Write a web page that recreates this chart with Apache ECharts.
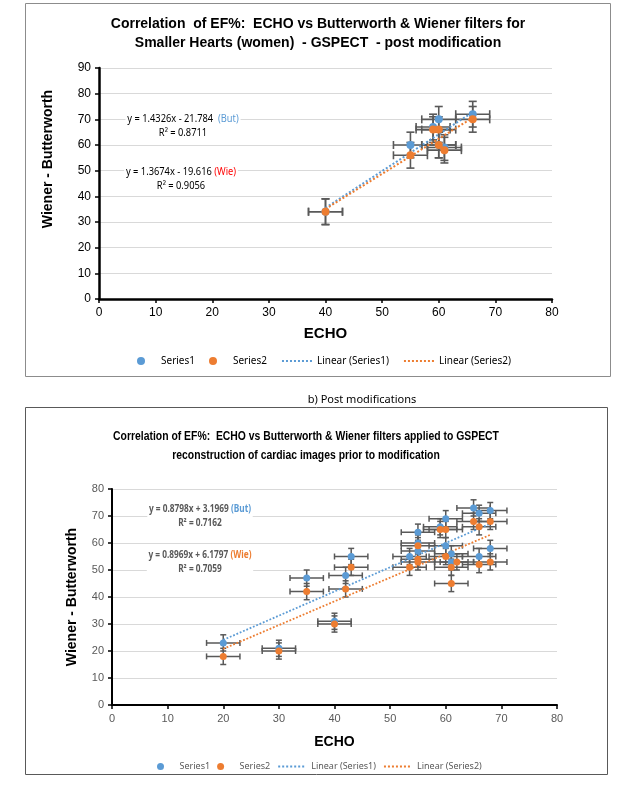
<!DOCTYPE html>
<html>
<head>
  <meta charset="UTF-8">
  <title>EF% correlation</title>
  <style>
    body { margin: 0; background: #fff; }
    #main { width: 635px; height: 788px; }
  </style>
</head>
<body>
  <div id="main"></div>
  <script src="https://cdn.jsdelivr.net/npm/echarts@6/dist/echarts.min.js"></script>
  <script>
    // top chart: post modification (smaller hearts)
    const echoA1 = [40, 55, 59, 60, 60, 61, 66];
    const butA = [34, 60, 67, 70, 60, 59, 72];
    const echoA2 = [40, 55, 59, 60, 60, 61, 66];
    const wieA = [34, 56, 66, 66, 60, 58, 70];
    const errA = [3, 5];             // x error, y error
    const trendA1 = [1.4326, -21.784];
    const trendA2 = [1.3674, -19.616];

    // bottom chart: prior to modification
    const echoB1 = [20, 30, 35, 40, 42, 43, 53.5, 55, 55, 55, 59, 60, 60, 61, 61, 65, 66, 66, 68, 68];
    const butB = [23, 21, 47, 31, 48, 55, 55, 64, 60, 57, 66, 69, 59, 56, 53, 73, 71, 55, 72, 58];
    const echoB2 = [20, 30, 35, 40, 42, 43, 53.5, 55, 55, 55, 59, 60, 60, 61, 61, 62, 65, 66, 66, 68, 68];
    const wieB = [18, 20, 42, 30, 43, 51, 51, 59, 54, 53, 65, 65, 55, 51, 45, 53, 68, 66, 52, 68, 53];
    const errB = [3, 3];
    // lines as drawn in the picture
    const trendB1 = [0.8969, 6.1797];
    const trendB2 = [0.8798, 3.1969];

    const BLUE = '#5B9BD5', ORANGE = '#ED7D31', BAR = '#595959';
    const legendNames = ['Series1', 'Series2', 'Linear (Series1)', 'Linear (Series2)'];
    const legendData = legendNames.map(n => n.startsWith('Linear') ? { name: n, itemStyle: { opacity: 0 } } : n);

    const pts = (xs, ys) => xs.map((x, i) => [x, ys[i]]);
    const withErr = (xs, ys, e) => xs.map((x, i) => [x, ys[i], e[0], e[1]]);
    const trend = (xs, c) => {
      const lo = Math.min(...xs), hi = Math.max(...xs);
      return [[lo, c[0] * lo + c[1]], [hi, c[0] * hi + c[1]]];
    };

    function errBars(cap, width) {
      return function (params, api) {
        const x = api.value(0), y = api.value(1), dx = api.value(2), dy = api.value(3);
        const l = api.coord([x - dx, y]), r = api.coord([x + dx, y]);
        const t = api.coord([x, y + dy]), b = api.coord([x, y - dy]);
        const style = { stroke: BAR, lineWidth: width };
        const ln = (x1, y1, x2, y2) => ({ type: 'line', shape: { x1, y1, x2, y2 }, style });
        return {
          type: 'group',
          children: [
            ln(l[0], l[1], r[0], r[1]),
            ln(l[0], l[1] - cap, l[0], l[1] + cap),
            ln(r[0], r[1] - cap, r[0], r[1] + cap),
            ln(t[0], t[1], b[0], b[1]),
            ln(t[0] - cap, t[1], t[0] + cap, t[1]),
            ln(b[0] - cap, b[1], b[0] + cap, b[1])
          ]
        };
      };
    }

    const chart = echarts.init(document.getElementById('main'));

    const eqStyleA = {
      fontFamily: 'Noto Sans', fontSize: 10, fill: '#000', align: 'center', verticalAlign: 'top', lineHeight: 14,
      backgroundColor: '#fff', padding: [0, 2],
      rich: {
        b: { fontFamily: 'Noto Sans', fontSize: 10, fill: BLUE },
        w: { fontFamily: 'Noto Sans', fontSize: 10, fill: '#FF0000' }
      }
    };
    const eqStyleB = {
      fontFamily: 'Noto Sans', fontSize: 10, fontWeight: 'bold', fill: '#595959', align: 'center', verticalAlign: 'top', lineHeight: 14,
      backgroundColor: '#fff', padding: [0, 2],
      rich: {
        b: { fontFamily: 'Noto Sans', fontSize: 10, fontWeight: 'bold', fill: BLUE },
        o: { fontFamily: 'Noto Sans', fontSize: 10, fontWeight: 'bold', fill: ORANGE }
      }
    };

    chart.setOption({
      animation: false,
      title: [
        {
          text: 'Correlation  of EF%:  ECHO vs Butterworth & Wiener filters for\nSmaller Hearts (women)  - GSPECT  - post modification',
          left: 313, top: 10, textAlign: 'center',
          textStyle: { fontFamily: 'Liberation Sans', fontSize: 14, fontWeight: 'bold', color: '#000', lineHeight: 19 }
        }
      ],
      legend: [
        {
          data: legendData, left: 132, top: 351, itemWidth: 30, itemHeight: 8, itemGap: 14,
          textStyle: { fontFamily: 'Noto Sans', fontSize: 10, color: '#000' }
        },
        {
          data: legendData, left: 152, top: 757, itemWidth: 28, itemHeight: 7, itemGap: 7,
          textStyle: { fontFamily: 'Noto Sans', fontSize: 9, color: '#595959' }
        }
      ],
      grid: [
        { left: 99, right: 83, top: 68, bottom: 489 },
        { left: 112, right: 78, top: 489, bottom: 83 }
      ],
      xAxis: [
        {
          gridIndex: 0, type: 'value', min: 0, max: 80, interval: 10,
          name: 'ECHO', nameLocation: 'middle', nameGap: 27,
          nameTextStyle: { fontFamily: 'Liberation Sans', fontSize: 15, fontWeight: 'bold', color: '#000' },
          axisLine: { lineStyle: { color: '#000', width: 2.5 } },
          axisTick: { lineStyle: { color: '#000', width: 1.5 }, length: 4 },
          axisLabel: { fontFamily: 'Liberation Sans', fontSize: 12, color: '#000', margin: 8 },
          splitLine: { show: false }
        },
        {
          gridIndex: 1, type: 'value', min: 0, max: 80, interval: 10,
          name: 'ECHO', nameLocation: 'middle', nameGap: 30,
          nameTextStyle: { fontFamily: 'Liberation Sans', fontSize: 14, fontWeight: 'bold', color: '#000' },
          axisLine: { lineStyle: { color: '#000', width: 2 } },
          axisTick: { lineStyle: { color: '#000', width: 1.5 }, length: 4 },
          axisLabel: { fontFamily: 'Liberation Sans', fontSize: 11, color: '#595959', margin: 8 },
          splitLine: { show: false }
        }
      ],
      yAxis: [
        {
          gridIndex: 0, type: 'value', min: 0, max: 90, interval: 10,
          axisLine: { show: true, lineStyle: { color: '#000', width: 2.5 } },
          axisTick: { show: true, lineStyle: { color: '#000', width: 1.5 }, length: 4 },
          axisLabel: { fontFamily: 'Liberation Sans', fontSize: 12, color: '#000', margin: 8 },
          splitLine: { lineStyle: { color: '#d9d9d9', width: 1.2 } }
        },
        {
          gridIndex: 1, type: 'value', min: 0, max: 80, interval: 10,
          name: 'Wiener - Butterworth', nameLocation: 'middle', nameGap: 33,
          nameTextStyle: { fontFamily: 'Liberation Sans', fontSize: 14, fontWeight: 'bold', color: '#000' },
          axisLine: { show: true, lineStyle: { color: '#000', width: 2 } },
          axisTick: { show: true, lineStyle: { color: '#000', width: 1.5 }, length: 4 },
          axisLabel: { fontFamily: 'Liberation Sans', fontSize: 11, color: '#595959', margin: 8 },
          splitLine: { lineStyle: { color: '#d9d9d9', width: 1.2 } }
        }
      ],
      graphic: [
        { type: 'rect', shape: { x: 25.5, y: 3.5, width: 585, height: 373 }, style: { fill: 'none', stroke: '#8c8c8c', lineWidth: 1 }, silent: true },
        { type: 'rect', shape: { x: 25.5, y: 407.5, width: 582, height: 367 }, style: { fill: 'none', stroke: '#595959', lineWidth: 1 }, silent: true },
        { type: 'text', x: 362, y: 400, style: { text: 'b) Post modifications', fontFamily: 'Noto Sans', fontSize: 11, fill: '#000', align: 'center', verticalAlign: 'middle' } },
        {
          type: 'text', x: 306, y: 446, scaleX: 0.8,
          style: {
            text: 'Correlation of EF%:  ECHO vs Butterworth & Wiener filters applied to GSPECT\nreconstruction of cardiac images prior to modification',
            fontFamily: 'Liberation Sans', fontSize: 13, fontWeight: 'bold', fill: '#000', align: 'center', verticalAlign: 'middle', lineHeight: 19
          }
        },
        { type: 'text', x: 48, y: 159, rotation: Math.PI / 2, style: { text: 'Wiener - Butterworth', fontFamily: 'Liberation Sans', fontSize: 14, fontWeight: 'bold', fill: '#000', align: 'center', verticalAlign: 'middle' } },
        { type: 'text', x: 183, y: 112, scaleX: 0.93, z: 100, style: Object.assign({ text: 'y = 1.4326x - 21.784  {b|(But)}\nR² = 0.8711' }, eqStyleA) },
        { type: 'text', x: 181, y: 165, scaleX: 0.93, z: 100, style: Object.assign({ text: 'y = 1.3674x - 19.616 {w|(Wie)}\nR² = 0.9056' }, eqStyleA) },
        { type: 'text', x: 200, y: 502, scaleX: 0.83, z: 100, style: Object.assign({ text: 'y = 0.8798x + 3.1969 {b|(But)}\nR² = 0.7162' }, eqStyleB) },
        { type: 'text', x: 200, y: 548, scaleX: 0.83, z: 100, style: Object.assign({ text: 'y = 0.8969x + 6.1797 {o|(Wie)}\nR² = 0.7059' }, eqStyleB) }
      ],
      series: [
        // top chart
        { type: 'custom', xAxisIndex: 0, yAxisIndex: 0, renderItem: errBars(4, 1.6), data: withErr(echoA1, butA, errA), encode: { x: 0, y: 1 }, z: 2, silent: true },
        { type: 'custom', xAxisIndex: 0, yAxisIndex: 0, renderItem: errBars(4, 1.6), data: withErr(echoA2, wieA, errA), encode: { x: 0, y: 1 }, z: 2, silent: true },
        { name: 'Linear (Series1)', type: 'line', xAxisIndex: 0, yAxisIndex: 0, data: trend(echoA1, trendA1), symbol: 'none', lineStyle: { color: BLUE, width: 2, type: 'dotted' }, itemStyle: { color: BLUE }, z: 3 },
        { name: 'Linear (Series2)', type: 'line', xAxisIndex: 0, yAxisIndex: 0, data: trend(echoA2, trendA2), symbol: 'none', lineStyle: { color: ORANGE, width: 2, type: 'dotted' }, itemStyle: { color: ORANGE }, z: 3 },
        { name: 'Series1', type: 'scatter', xAxisIndex: 0, yAxisIndex: 0, data: pts(echoA1, butA), symbolSize: 8, itemStyle: { color: BLUE, opacity: 1 }, z: 4 },
        { name: 'Series2', type: 'scatter', xAxisIndex: 0, yAxisIndex: 0, data: pts(echoA2, wieA), symbolSize: 8, itemStyle: { color: ORANGE, opacity: 1 }, z: 5 },
        // bottom chart
        { type: 'custom', xAxisIndex: 1, yAxisIndex: 1, renderItem: errBars(3, 1.5), data: withErr(echoB1, butB, errB), encode: { x: 0, y: 1 }, z: 2, silent: true },
        { type: 'custom', xAxisIndex: 1, yAxisIndex: 1, renderItem: errBars(3, 1.5), data: withErr(echoB2, wieB, errB), encode: { x: 0, y: 1 }, z: 2, silent: true },
        { name: 'Linear (Series1)', type: 'line', xAxisIndex: 1, yAxisIndex: 1, data: trend(echoB1, trendB1), symbol: 'none', lineStyle: { color: BLUE, width: 1.8, type: 'dotted' }, itemStyle: { color: BLUE }, z: 3 },
        { name: 'Linear (Series2)', type: 'line', xAxisIndex: 1, yAxisIndex: 1, data: trend(echoB2, trendB2), symbol: 'none', lineStyle: { color: ORANGE, width: 1.8, type: 'dotted' }, itemStyle: { color: ORANGE }, z: 3 },
        { name: 'Series1', type: 'scatter', xAxisIndex: 1, yAxisIndex: 1, data: pts(echoB1, butB), symbolSize: 7, itemStyle: { color: BLUE, opacity: 1 }, z: 4 },
        { name: 'Series2', type: 'scatter', xAxisIndex: 1, yAxisIndex: 1, data: pts(echoB2, wieB), symbolSize: 7, itemStyle: { color: ORANGE, opacity: 1 }, z: 5 }
      ]
    });
  </script>
</body>
</html>
